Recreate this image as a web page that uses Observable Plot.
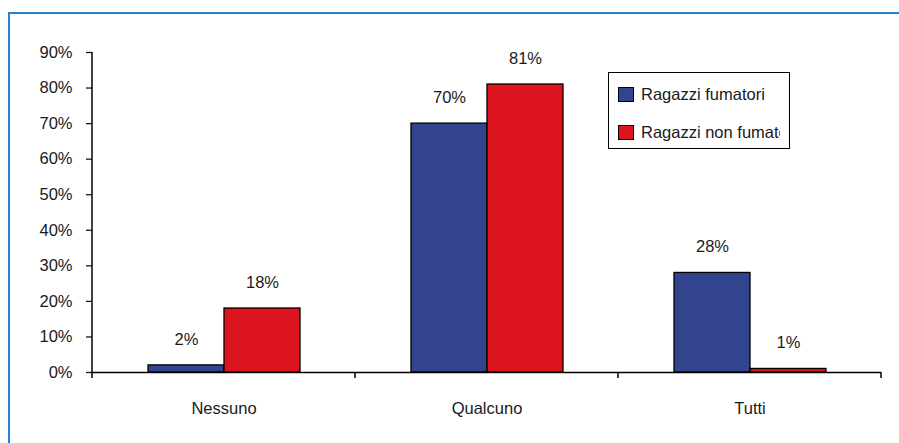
<!DOCTYPE html>
<html>
<head>
<meta charset="utf-8">
<script src="https://cdn.jsdelivr.net/npm/d3@7"></script>
<script src="https://cdn.jsdelivr.net/npm/@observablehq/plot@0.6"></script>
<style>
  body { margin: 0; background: #fff; }
  #wrap { position: relative; width: 899px; height: 443px; overflow: hidden; font-family: "Liberation Sans", Arial, sans-serif; color: #1a1a1a; }
  #border { position: absolute; left: 8px; top: 12px; width: 1000px; height: 1000px; border-left: 2px solid #2a7fcf; border-top: 2px solid #2a7fcf; }
  #chart { position: absolute; left: 0; top: 0; }
  #legend { position: absolute; left: 608px; top: 72px; width: 180px; height: 75px; border: 1.5px solid #000; overflow: hidden; background: #fff; white-space: nowrap; }
  .row { position: absolute; left: 9px; width: 162px; overflow: hidden; height: 18px; display: flex; align-items: center; font-size: 16.5px; }
  .sw { width: 14px; height: 13px; border: 1px solid #000; margin-right: 7px; flex: none; }
</style>
</head>
<body>
<div id="wrap">
  <div id="border"></div>
  <div id="chart"></div>
  <div id="legend"></div>
</div>
<script>
const categories = ["Nessuno", "Qualcuno", "Tutti"];
const series = ["Ragazzi fumatori", "Ragazzi non fumatori"];
const fumatori = [0.02, 0.70, 0.28];
const nonFumatori = [0.18, 0.81, 0.01];
const yTicks = [0, 0.1, 0.2, 0.3, 0.4, 0.5, 0.6, 0.7, 0.8, 0.9];
const colors = ["#33448f", "#dc141e"];

const data = [];
categories.forEach((c, i) => {
  data.push({cat: c, series: series[0], value: fumatori[i]});
  data.push({cat: c, series: series[1], value: nonFumatori[i]});
});

const pct = d3.format(".0%");

const chart = Plot.plot({
  width: 899,
  height: 443,
  marginLeft: 91,
  marginRight: 17,
  marginTop: 52,
  marginBottom: 71,
  style: { fontFamily: "'Liberation Sans', Arial, sans-serif", fontSize: "16.5px", color: "#1a1a1a", background: "transparent" },
  fx: { domain: categories, padding: 0, label: null },
  x: { domain: series, paddingInner: 0, paddingOuter: 0.712, axis: null },
  y: { domain: [0, 0.9], label: null, axis: null },
  color: { domain: series, range: colors },
  marks: [
    Plot.axisFx({ anchor: "bottom", tickSize: 0, tickPadding: 30, label: null, fontSize: 16.5 }),
    Plot.axisY({ ticks: yTicks, tickFormat: pct, tickSize: 6, tickPadding: 14, label: null, fontSize: 16.5, strokeWidth: 1.3 }),
    Plot.barY(data, { fx: "cat", x: "series", y: "value", fill: "series", stroke: "black", strokeWidth: 1.3 }),
    Plot.ruleY([0], { stroke: "black", strokeWidth: 1.5 }),
    Plot.text(data, { fx: "cat", x: "series", y: "value", text: d => pct(d.value), dy: -26, fontSize: 16.5, fill: "#1a1a1a" })
  ]
});

// y-axis line and category boundary ticks, from the plot's scales
const fx = chart.scale("fx");
const y = chart.scale("y");
const svg = d3.select(chart);
const y0 = y.apply(0);
const yTop = y.apply(0.9);
const x0 = fx.apply(categories[0]);
const g = svg.append("g").attr("stroke", "black").attr("stroke-width", 1.5);
g.append("line").attr("x1", x0).attr("x2", x0).attr("y1", yTop).attr("y2", y0 + 6);
const edges = categories.map(c => fx.apply(c)).concat([fx.apply(categories[categories.length - 1]) + fx.bandwidth]);
edges.slice(1).forEach(e => {
  g.append("line").attr("x1", e).attr("x2", e).attr("y1", y0).attr("y2", y0 + 6);
});

document.getElementById("chart").appendChild(chart);

// legend
const color = chart.scale("color");
const legend = document.getElementById("legend");
series.forEach((s, i) => {
  const row = document.createElement("div");
  row.className = "row";
  row.style.top = (i === 0 ? 12 : 50) + "px";
  const sw = document.createElement("div");
  sw.className = "sw";
  sw.style.background = color.apply(s);
  const t = document.createElement("span");
  t.textContent = s;
  row.appendChild(sw);
  row.appendChild(t);
  legend.appendChild(row);
});
</script>
</body>
</html>
